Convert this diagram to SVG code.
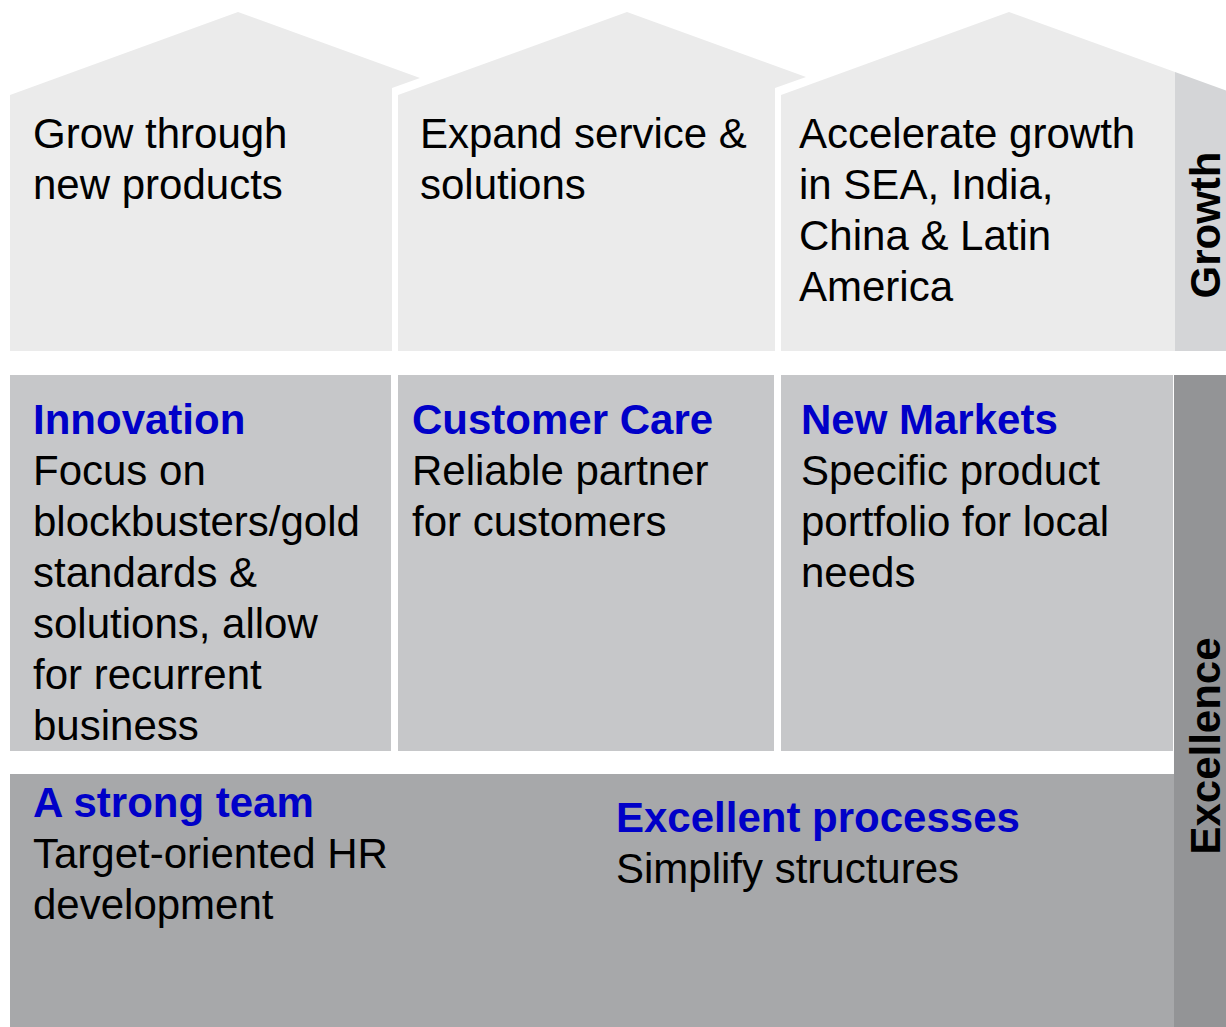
<svg xmlns="http://www.w3.org/2000/svg" width="1226" height="1027" viewBox="0 0 1226 1027">
  <style>
    .t { font-family: "Liberation Sans", Arial, sans-serif; font-size: 42px; fill: #000; }
    .h { font-family: "Liberation Sans", Arial, sans-serif; font-size: 42px; font-weight: bold; fill: #0000c8; }
    .side { font-family: "Liberation Sans", Arial, sans-serif; font-size: 42px; font-weight: bold; fill: #000; text-anchor: middle; }
    .r1 { fill: #ebebeb; }
    .r2 { fill: #c6c7c9; }
    .r3 { fill: #a7a8aa; }
  </style>
  <rect width="1226" height="1027" fill="#fff"/>

  <!-- Side bars -->
  <g id="growth-bar">
    <polygon points="1175,72 1226,90.5 1226,351 1175,351" fill="#d4d5d7"/>
    <text class="side" transform="translate(1220,225) rotate(-90)">Growth</text>
  </g>
  <g id="excellence-bar">
    <rect x="1174" y="375" width="52" height="652" fill="#939496"/>
    <text class="side" transform="translate(1220,746) rotate(-90)">Excellence</text>
  </g>

  <!-- Roof row: growth goals -->
  <g id="grow-products">
    <polygon class="r1" points="10,95 238,12 420,78 392,88 392,351 10,351"/>
    <text class="t" x="33" y="148">Grow through</text>
    <text class="t" x="33" y="199">new products</text>
  </g>
  <g id="expand-service">
    <polygon class="r1" points="398,95 627,12 806,77 775,88 775,351 398,351"/>
    <text class="t" x="420" y="148">Expand service &amp;</text>
    <text class="t" x="420" y="199">solutions</text>
  </g>
  <g id="accelerate-growth">
    <polygon class="r1" points="781,95 1009,12 1175,72 1175,351 781,351"/>
    <text class="t" x="799" y="148">Accelerate growth</text>
    <text class="t" x="799" y="199">in SEA, India,</text>
    <text class="t" x="799" y="250">China &amp; Latin</text>
    <text class="t" x="799" y="301">America</text>
  </g>

  <!-- Pillars -->
  <g id="innovation">
    <rect class="r2" x="10" y="375" width="381" height="376"/>
    <text class="h" x="33" y="434">Innovation</text>
    <text class="t" x="33" y="485">Focus on</text>
    <text class="t" x="33" y="536">blockbusters/gold</text>
    <text class="t" x="33" y="587">standards &amp;</text>
    <text class="t" x="33" y="638">solutions, allow</text>
    <text class="t" x="33" y="689">for recurrent</text>
    <text class="t" x="33" y="740">business</text>
  </g>
  <g id="customer-care">
    <rect class="r2" x="398" y="375" width="376" height="376"/>
    <text class="h" x="412" y="434">Customer Care</text>
    <text class="t" x="412" y="485">Reliable partner</text>
    <text class="t" x="412" y="536">for customers</text>
  </g>
  <g id="new-markets">
    <rect class="r2" x="781" y="375" width="392" height="376"/>
    <text class="h" x="801" y="434">New Markets</text>
    <text class="t" x="801" y="485">Specific product</text>
    <text class="t" x="801" y="536">portfolio for local</text>
    <text class="t" x="801" y="587">needs</text>
  </g>

  <!-- Foundation -->
  <g id="foundation">
    <rect class="r3" x="10" y="774" width="1164" height="253"/>
  </g>
  <g id="strong-team">
    <text class="h" x="33" y="817">A strong team</text>
    <text class="t" x="33" y="868">Target-oriented HR</text>
    <text class="t" x="33" y="919">development</text>
  </g>
  <g id="excellent-processes">
    <text class="h" x="616" y="832">Excellent processes</text>
    <text class="t" x="616" y="883">Simplify structures</text>
  </g>

  <!-- No connectors in this diagram -->
  <g id="connectors"/>
</svg>
